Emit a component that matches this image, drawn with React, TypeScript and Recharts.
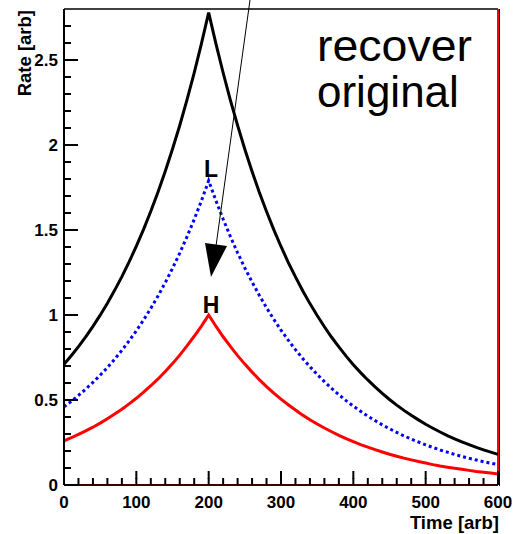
import { LineChart, Line, XAxis, YAxis, ReferenceLine } from "recharts";

// time samples [arb]
const times = [
  0, 10, 20, 30, 40, 50, 60, 70, 80, 90, 100, 110, 120, 130, 140, 150, 160, 170,
  180, 190, 200, 210, 220, 230, 240, 250, 260, 270, 280, 290, 300, 310, 320, 330,
  340, 350, 360, 370, 380, 390, 400, 410, 420, 430, 440, 450, 460, 470, 480, 490,
  500, 510, 520, 530, 540, 550, 560, 570, 580, 590, 600,
];

// recovered original (black, solid)
const originalRate = [
  0.71, 0.76, 0.814, 0.871, 0.933, 0.999, 1.069, 1.145, 1.226, 1.312, 1.405,
  1.504, 1.61, 1.724, 1.846, 1.976, 2.115, 2.265, 2.424, 2.596, 2.779, 2.596,
  2.425, 2.264, 2.115, 1.975, 1.844, 1.722, 1.609, 1.502, 1.403, 1.31, 1.224,
  1.143, 1.067, 0.997, 0.931, 0.869, 0.812, 0.758, 0.708, 0.661, 0.618, 0.577,
  0.539, 0.503, 0.47, 0.439, 0.41, 0.383, 0.357, 0.334, 0.312, 0.291, 0.272,
  0.254, 0.237, 0.221, 0.207, 0.193, 0.18,
];

// L (blue, dotted)
const lowRate = [
  0.46, 0.492, 0.527, 0.564, 0.604, 0.646, 0.691, 0.74, 0.792, 0.848, 0.907,
  0.971, 1.039, 1.112, 1.191, 1.274, 1.364, 1.46, 1.562, 1.672, 1.79, 1.673,
  1.564, 1.462, 1.366, 1.277, 1.194, 1.116, 1.043, 0.975, 0.911, 0.852, 0.796,
  0.744, 0.696, 0.65, 0.608, 0.568, 0.531, 0.496, 0.464, 0.434, 0.405, 0.379,
  0.354, 0.331, 0.309, 0.289, 0.27, 0.253, 0.236, 0.221, 0.206, 0.193, 0.18,
  0.168, 0.157, 0.147, 0.137, 0.128, 0.12,
];

// H (red, solid)
const highRate = [
  0.26, 0.278, 0.298, 0.318, 0.34, 0.364, 0.39, 0.417, 0.446, 0.477, 0.51,
  0.546, 0.584, 0.624, 0.668, 0.714, 0.764, 0.818, 0.875, 0.935, 1.0, 0.934,
  0.872, 0.815, 0.761, 0.711, 0.664, 0.62, 0.579, 0.541, 0.505, 0.472, 0.441,
  0.411, 0.384, 0.359, 0.335, 0.313, 0.292, 0.273, 0.255, 0.238, 0.223, 0.208,
  0.194, 0.181, 0.169, 0.158, 0.148, 0.138, 0.129, 0.12, 0.112, 0.105, 0.098,
  0.092, 0.086, 0.08, 0.075, 0.07, 0.065,
];

const xTicks = [
  0, 20, 40, 60, 80, 100, 120, 140, 160, 180, 200, 220, 240, 260, 280, 300, 320,
  340, 360, 380, 400, 420, 440, 460, 480, 500, 520, 540, 560, 580, 600,
];
const yTicks = [
  0, 0.1, 0.2, 0.3, 0.4, 0.5, 0.6, 0.7, 0.8, 0.9, 1, 1.1, 1.2, 1.3, 1.4, 1.5,
  1.6, 1.7, 1.8, 1.9, 2, 2.1, 2.2, 2.3, 2.4, 2.5, 2.6, 2.7,
];

const data = times.map((t, i) => ({
  t,
  original: originalRate[i],
  low: lowRate[i],
  high: highRate[i],
}));

const font = "'Liberation Sans', Arial, Helvetica, sans-serif";

const W = 514;
const H = 534;
// plot frame: x 64..498, y 9..485
const LEFT = 64;
const TOP = 9;
const BOTTOM = 485;
const Y_MAX = 2.8;

const isMajorY = (v: number) => Math.abs(v * 2 - Math.round(v * 2)) < 1e-6;
const yPix = (v: number) => BOTTOM - (v / Y_MAX) * (BOTTOM - TOP);

// native tick line draws the inner 7px, majors get another 7px plus a label
function XTick(props: any) {
  const x = Number(props.x);
  const y = Number(props.y);
  const v = props.payload.value;
  if (v % 100 !== 0) return <g />;
  return (
    <g>
      <path d={`M${x},${y + 1} V${y - 7}`} stroke="#000" strokeWidth={2} fill="none" />
      <text
        x={x}
        y={y + 30}
        textAnchor="middle"
        fontFamily={font}
        fontWeight="bold"
        fontSize={17}
        fill="#000"
      >
        {v}
      </text>
    </g>
  );
}

function YTick(props: any) {
  const x = Number(props.x);
  const y = Number(props.y);
  const v = props.payload.value;
  const major = isMajorY(v);
  return (
    <g>
      <rect x={x - 7} y={y - 1} width={major ? 14 : 7} height={2} fill="#000" />
      {major && (
        <text
          x={x - 13}
          y={y + 6}
          textAnchor="end"
          fontFamily={font}
          fontWeight="bold"
          fontSize={17}
          fill="#000"
        >
          {String(v)}
        </text>
      )}
    </g>
  );
}

export default function App() {
  return (
    <div style={{ position: "absolute", left: 0, top: 0, width: W, height: H, background: "#fff" }}>
      <LineChart
        width={W}
        height={H}
        data={data}
        margin={{ top: TOP, right: W - 498, bottom: 0, left: 0 }}
      >
        <ReferenceLine y={2.8} stroke="#000" strokeWidth={1.5} />
        <ReferenceLine x={600} stroke="#ff0000" strokeWidth={2} />
        <ReferenceLine y={0} stroke="#ff0000" strokeWidth={2} />
        <Line
          dataKey="original"
          type="linear"
          stroke="#000"
          strokeWidth={3}
          dot={false}
          activeDot={false}
          isAnimationActive={false}
        />
        <Line
          dataKey="low"
          type="linear"
          stroke="#0000ff"
          strokeWidth={3}
          strokeDasharray="3 3"
          dot={false}
          activeDot={false}
          isAnimationActive={false}
        />
        <Line
          dataKey="high"
          type="linear"
          stroke="#ff0000"
          strokeWidth={3}
          dot={false}
          activeDot={false}
          isAnimationActive={false}
        />
        <XAxis
          dataKey="t"
          type="number"
          domain={[0, 600]}
          ticks={xTicks}
          interval={0}
          tick={<XTick />}
          tickSize={-7}
          tickMargin={0}
          tickLine={{ stroke: "#000", strokeWidth: 2 }}
          axisLine={{ stroke: "#000", strokeWidth: 1.5 }}
          height={H - BOTTOM}
        />
        <YAxis
          type="number"
          domain={[0, Y_MAX]}
          ticks={yTicks}
          interval={0}
          tick={<YTick />}
          tickSize={-7}
          tickMargin={0}
          tickLine={false}
          axisLine={{ stroke: "#000", strokeWidth: 2 }}
          width={LEFT}
        />
      </LineChart>
      <svg
        width={W}
        height={H}
        style={{ position: "absolute", left: 0, top: 0, pointerEvents: "none" }}
      >
        {/* inward y-axis ticks, drawn on top in case the axis layer hides them */}
        {yTicks.map((v) => (
          <line
            key={v}
            x1={LEFT}
            x2={LEFT + (isMajorY(v) ? 14 : 7)}
            y1={yPix(v)}
            y2={yPix(v)}
            stroke="#000"
            strokeWidth={2}
          />
        ))}
        <line x1={499.5} y1={TOP} x2={499.5} y2={BOTTOM + 1} stroke="#000" />
        <text x={31} y={10} transform="rotate(-90 31 10)" textAnchor="end" fontFamily={font} fontWeight="bold" fontSize={18.5}>
          Rate [arb]
        </text>
        <text x={499} y={529} textAnchor="end" fontFamily={font} fontWeight="bold" fontSize={18.5}>
          Time [arb]
        </text>
        <text x={211} y={177} textAnchor="middle" fontFamily={font} fontWeight="bold" fontSize={23}>
          L
        </text>
        <text x={211} y={313} textAnchor="middle" fontFamily={font} fontWeight="bold" fontSize={23}>
          H
        </text>
        <text x={317} y={61} fontFamily={font} fontSize={44} textLength={155} lengthAdjust="spacingAndGlyphs">
          recover
        </text>
        <text x={317} y={107} fontFamily={font} fontSize={44}>
          original
        </text>
        <line x1={250} y1={0} x2={216} y2={246} stroke="#000" />
        <polygon points="205,243 227,246 211,277" fill="#000" />
      </svg>
    </div>
  );
}
